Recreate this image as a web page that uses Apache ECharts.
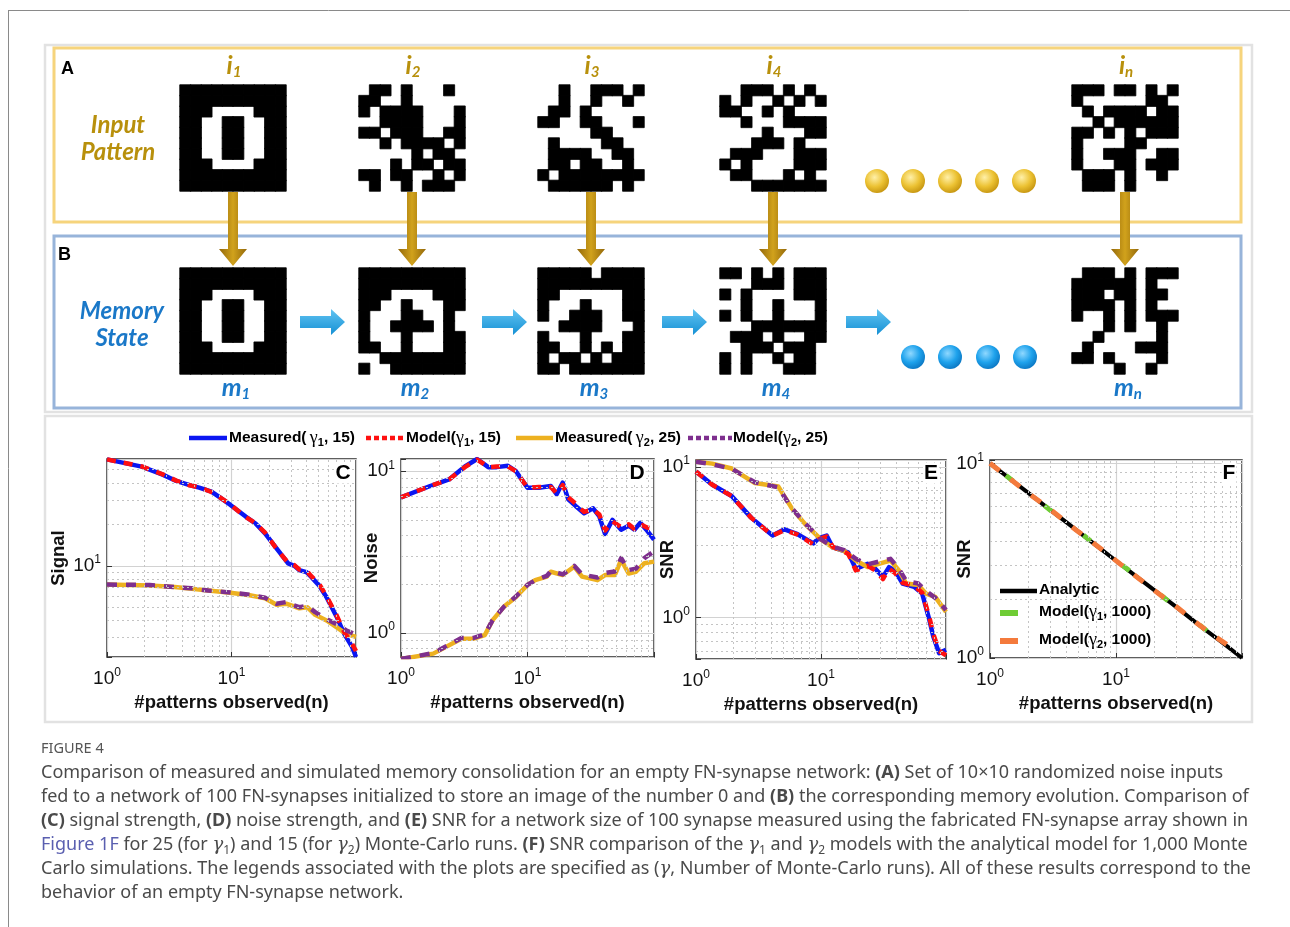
<!DOCTYPE html>
<html>
<head>
<meta charset="utf-8">
<script src="https://cdn.jsdelivr.net/npm/echarts@6/dist/echarts.min.js"></script>
<style>
  html, body { margin: 0; padding: 0; background: #fff; }
  #fig { width: 1290px; height: 927px; }
</style>
</head>
<body>
<div id="fig"></div>
<script>
// ---------- 10x10 binary patterns (1 = black pixel) ----------
const patInput1 = ['1111111111','1111111111','1110000111','1100110011','1100110011','1100110011','1100110011','1110000111','1111111111','1111111111'];
const patInput2 = ['0110100010','1100100000','1011110001','0011110001','1101110011','0010111101','0000010110','0001011011','1101100101','0100101110'];
const patInput3 = ['0010011101','0010010010','0110100000','1100110001','0000011000','0100001100','0111100110','0110110010','1011111111','0111111010'];
const patInput4 = ['0011101010','1010010101','1100101000','0010001111','0000100011','0001110100','0111000111','1010000111','0110001010','0001111111'];
const patInputN = ['1110110101','1000000110','0101111011','0010111111','1101010111','1000011000','1001110011','1000110111','0111010010','0111010000'];
const patMemory1 = ['1111111111','1111111111','1110000111','1100110011','1100110011','1100110011','1100110011','1110000111','1111111111','1111111111'];
const patMemory2 = ['1111111111','1111111111','1110000111','1100100011','1000110010','1001111010','1000100011','1100100011','0011111111','1001111111'];
const patMemory3 = ['1111101111','1111111111','1100000011','1000100011','1001110011','0011110001','1000100011','1100101011','1011010111','1101111111'];
const patMemory4 = ['1101010111','0001110111','1010000111','0010010001','1010010001','0001111111','0111010011','0011101110','1010010110','1010001110'];
const patMemoryN = ['0111010111','1111110100','1110110110','1111010100','1001010111','0001010010','0010000010','0100001110','1101000010','0000100100'];

const patternLefts = [180, 359, 538, 720, 1072];
const inputLabels = ['1', '2', '3', '4', 'n'];

// ---------- panel C: signal ----------
const sigG1N   = [1, 1.9, 2.8, 3.6, 4.6, 5.5, 6.9, 7.9, 9.8, 13, 15.6, 18.6, 23, 28.5, 32, 35, 40, 43.7, 50.5, 58, 69.5, 80.5, 93, 100];
const sigG1Meas  = [59.4, 52.6, 46, 41.4, 38.6, 37, 34.6, 31.8, 27.7, 22.8, 20.3, 17.2, 13.4, 10.4, 10.0, 9.3, 9.0, 8.3, 7.2, 5.9, 4.3, 3.2, 2.57, 2.17];
const sigG1Model = [59.4, 52.8, 46.2, 41.6, 38.5, 37.2, 34.4, 31.9, 27.9, 22.6, 20.4, 17.4, 13.3, 10.5, 10.1, 9.4, 9.2, 8.4, 7.4, 6.0, 4.4, 3.3, 2.7, 2.4];
const sigG2N   = [1, 2.2, 3.5, 4.8, 6.5, 9.8, 14, 18.6, 23, 27.5, 31, 35, 40.6, 47, 58, 72, 83, 100];
const sigG2Meas  = [7.3, 7.2, 7.0, 6.8, 6.6, 6.36, 6.1, 5.8, 5.2, 5.3, 5.1, 4.9, 5.0, 4.4, 4.0, 3.5, 3.2, 3.04];
const sigG2Model = [7.3, 7.25, 7.0, 6.85, 6.6, 6.4, 6.15, 5.85, 5.3, 5.45, 5.2, 5.0, 5.1, 4.6, 4.1, 3.7, 3.4, 3.15];

// ---------- panel D: noise ----------
const noiG1N   = [1, 1.7, 2.4, 3.2, 4.0, 4.9, 5.7, 7.0, 8.1, 10, 12.3, 15.3, 17, 19, 21, 24, 28, 33, 37, 41, 47, 55, 63, 70, 78, 87, 100];
const noiG1Meas  = [6.9, 8.1, 8.9, 10.7, 11.9, 10.6, 10.6, 10.8, 10, 7.9, 7.9, 8.1, 7.2, 8.5, 6.7, 6.1, 5.5, 5.9, 5.25, 4.1, 5.0, 4.35, 4.6, 4.35, 4.8, 4.35, 3.77];
const noiG1Model = [6.9, 8.1, 8.9, 10.6, 11.8, 10.6, 10.7, 10.7, 10, 7.9, 8.0, 8.0, 7.3, 8.2, 6.9, 6.3, 5.6, 5.8, 5.4, 4.3, 4.9, 4.5, 4.7, 4.4, 4.7, 4.5, 4.4];
const noiG2N   = [1, 1.8, 3, 3.7, 4.6, 5.3, 6.5, 8.1, 10, 11.5, 14.2, 15.3, 19, 23.4, 27, 35.7, 41, 49, 55, 63, 72, 84, 100];
const noiG2Meas  = [0.69, 0.745, 0.92, 0.92, 0.97, 1.2, 1.45, 1.67, 1.98, 2.12, 2.23, 2.39, 2.28, 2.57, 2.23, 2.12, 2.28, 2.28, 2.83, 2.33, 2.39, 2.7, 2.76];
const noiG2Model = [0.69, 0.75, 0.93, 0.93, 0.98, 1.2, 1.45, 1.68, 1.98, 2.12, 2.25, 2.42, 2.3, 2.6, 2.3, 2.2, 2.35, 2.4, 2.9, 2.45, 2.5, 2.9, 3.2];

// ---------- panel E: SNR ----------
const snrG1N   = [1, 1.35, 1.93, 2.76, 4.1, 5.1, 6.5, 8.7, 9.6, 11.1, 12.4, 16.5, 19, 23.6, 27.3, 31.3, 35, 39, 45, 55.6, 64.5, 73.7, 79, 88, 100];
const snrG1Meas  = [9.3, 7.6, 6.4, 4.6, 3.5, 3.85, 3.57, 3.1, 3.36, 3.5, 2.92, 2.7, 2.1, 2.27, 2.1, 1.86, 2.16, 2.05, 1.68, 1.6, 1.44, 0.96, 0.75, 0.58, 0.61];
const snrG1Model = [9.3, 7.6, 6.4, 4.6, 3.5, 3.8, 3.55, 3.05, 3.3, 3.45, 2.95, 2.65, 2.05, 2.2, 2.05, 1.8, 2.1, 1.98, 1.7, 1.62, 1.46, 1.0, 0.78, 0.6, 0.56];
const snrG2N   = [1, 1.35, 1.93, 2.96, 4.55, 5.85, 7.5, 10, 12.4, 15.3, 19, 23.6, 29, 36, 42, 48, 60, 69, 82, 100];
const snrG2Meas  = [10.8, 10.5, 9.75, 7.8, 7.4, 5.3, 4.15, 3.3, 2.92, 2.77, 2.39, 2.16, 2.27, 2.39, 2.05, 1.68, 1.64, 1.44, 1.37, 1.09];
const snrG2Model = [10.8, 10.4, 9.7, 7.9, 7.3, 5.3, 4.2, 3.3, 2.95, 2.8, 2.45, 2.25, 2.35, 2.45, 2.1, 1.75, 1.68, 1.5, 1.35, 1.12];

// ---------- panel F: SNR, analytic vs 1000-run models ----------
const fAnalyticN = [1, 1.5, 2, 3, 4, 5, 7, 10, 15, 20, 30, 40, 50, 70, 100];
const fAnalytic  = [10, 8.16, 7.07, 5.77, 5.0, 4.47, 3.78, 3.16, 2.58, 2.24, 1.83, 1.58, 1.41, 1.20, 1.0];
const fModelN    = [1, 2, 3, 5, 8, 12, 20, 30, 45, 60, 86];
const fModelG1   = [10.0, 7.1, 5.75, 4.5, 3.52, 2.9, 2.25, 1.82, 1.5, 1.28, 1.1];
const fModelG2   = [10.0, 7.05, 5.8, 4.46, 3.55, 2.88, 2.23, 1.84, 1.49, 1.3, 1.11];

// minor grid positions (log decades)
const xMinor = [2, 3, 4, 5, 6, 7, 8, 9, 20, 30, 40, 50, 60, 70, 80, 90];
const yMinorC = [3, 4, 5, 6, 7, 8, 9, 20, 30, 40, 50];
const yMinorD = [0.8, 0.9, 2, 3, 4, 5, 6, 7, 8, 9];
const yMinorE = [0.6, 0.7, 0.8, 0.9, 2, 3, 4, 5, 6, 7, 8, 9];
const yMinorF = [2, 3, 4, 5, 6, 7, 8, 9];

// ---------- styling ----------
const BLUE = '#0b16f2', RED = '#ff1010', ORANGE = '#edb120', PURPLE = '#7e2f8e';
const GREEN = '#6fcc35', CORAL = '#f47a3c';
const GOLD_TXT = '#b8900c', BLUE_TXT = '#1a78c8';
const PF = '"Liberation Sans", Arial, sans-serif';
const CAP = '"Noto Sans", "Open Sans", sans-serif';

const pairs = (xs, ys) => xs.map((x, i) => [x, ys[i]]);
// only the black pixels are drawn; a hairline border of the same colour closes the seams
const cells = rows => {
  const out = [];
  rows.forEach((r, ri) => {
    for (let c = 0; c < 10; c++) {
      if (r[c] === '1') out.push({ value: [c, ri, 1], itemStyle: { color: '#000', borderColor: '#000', borderWidth: 0.8 } });
    }
  });
  return out;
};

const grids = [], xAxes = [], yAxes = [], series = [];

// pattern heatmaps
const patterns = [patInput1, patInput2, patInput3, patInput4, patInputN,
                  patMemory1, patMemory2, patMemory3, patMemory4, patMemoryN];
patterns.forEach((p, k) => {
  const left = patternLefts[k % 5];
  const top = k < 5 ? 85 : 268;
  grids.push({ left: left, top: top, width: 106, height: 106 });
  const cats = ['0','1','2','3','4','5','6','7','8','9'];
  xAxes.push({ type: 'category', gridIndex: k, data: cats, show: false });
  yAxes.push({ type: 'category', gridIndex: k, data: cats, show: false, inverse: true });
  series.push({ type: 'heatmap', xAxisIndex: k, yAxisIndex: k, data: cells(p), silent: true });
});

function powLabel(v) {
  const l = Math.log10(v), r = Math.round(l);
  if (Math.abs(l - r) > 1e-6 || r > 1 || r < 0) return '';
  return '{b|10}{s|' + r + '}';
}
const tickRich = {
  b: { fontSize: 19, fontFamily: PF, color: '#111', lineHeight: 24 },
  s: { fontSize: 12, fontFamily: PF, color: '#111', lineHeight: 12, verticalAlign: 'top' }
};

const plots = [
  { left: 107, top: 459, width: 249, height: 198, ymin: 2.17, ymax: 59.8, yname: 'Signal', ygap: 39, ym: yMinorC },
  { left: 401, top: 459, width: 253, height: 198, ymin: 0.71, ymax: 11.9, yname: 'Noise', ygap: 20, ym: yMinorD },
  { left: 696, top: 460, width: 250, height: 199, ymin: 0.53, ymax: 11.1, yname: 'SNR', ygap: 19, ym: yMinorE },
  { left: 990, top: 460, width: 252, height: 198, ymin: 1, ymax: 10.4, yname: 'SNR', ygap: 16, ym: yMinorF }
];
plots.forEach((p, j) => {
  const gi = 10 + j;
  grids.push({ left: p.left, top: p.top, width: p.width, height: p.height,
    show: true, borderColor: '#2a2a2a', borderWidth: 1.5, backgroundColor: '#fff' });
  xAxes.push({ type: 'log', logBase: 10, gridIndex: gi, min: 1, max: 100,
    name: '#patterns observed(n)', nameLocation: 'middle', nameGap: 36, nameMoveOverlap: false,
    nameTextStyle: { fontFamily: PF, fontSize: 18.5, fontWeight: 'bold', color: '#111', verticalAlign: 'top' },
    axisLine: { show: false },
    axisTick: { show: true, inside: true, length: 5, lineStyle: { color: '#333' } },
    axisLabel: { formatter: powLabel, rich: tickRich, margin: 10, showMinLabel: true, showMaxLabel: true },
    splitLine: { show: true, lineStyle: { color: '#d2d2d2', width: 1.2 } } });
  yAxes.push({ type: 'log', logBase: 10, gridIndex: gi, min: p.ymin, max: p.ymax,
    name: p.yname, nameLocation: 'middle', nameGap: p.ygap, nameRotate: 90, nameMoveOverlap: false,
    nameTextStyle: { fontFamily: PF, fontSize: 18.5, fontWeight: 'bold', color: '#111' },
    axisLine: { show: false },
    axisTick: { show: true, inside: true, length: 5, lineStyle: { color: '#333' } },
    axisLabel: { formatter: powLabel, rich: tickRich, margin: 6, showMinLabel: true, showMaxLabel: true },
    splitLine: { show: true, lineStyle: { color: '#d2d2d2', width: 1.2 } } });
  // dotted minor grid
  series.push({ type: 'line', xAxisIndex: gi, yAxisIndex: gi, data: [[1, p.ymin]], showSymbol: false,
    lineStyle: { opacity: 0 }, z: 1, silent: true,
    markLine: { silent: true, symbol: 'none', label: { show: false }, animation: false,
      lineStyle: { type: [2, 3], color: '#c4c4c4', width: 1 },
      data: xMinor.map(v => ({ xAxis: v })).concat(p.ym.map(v => ({ yAxis: v }))) } });
});

function line(gi, data, color, type, width, z, offset) {
  return { type: 'line', xAxisIndex: gi, yAxisIndex: gi, data: data, showSymbol: false,
    symbol: 'none', z: z, silent: true,
    lineStyle: { color: color, width: width, type: type, dashOffset: offset || 0, cap: 'butt', join: 'round' } };
}
// C
series.push(line(10, pairs(sigG1N, sigG1Meas), BLUE, 'solid', 4.5, 3));
series.push(line(10, pairs(sigG1N, sigG1Model), RED, [9, 8], 4.5, 4));
series.push(line(10, pairs(sigG2N, sigG2Meas), ORANGE, 'solid', 4.5, 3));
series.push(line(10, pairs(sigG2N, sigG2Model), PURPLE, [10, 9], 4.5, 4));
// D
series.push(line(11, pairs(noiG1N, noiG1Meas), BLUE, 'solid', 4.5, 3));
series.push(line(11, pairs(noiG1N, noiG1Model), RED, [9, 8], 4.5, 4));
series.push(line(11, pairs(noiG2N, noiG2Meas), ORANGE, 'solid', 4.5, 3));
series.push(line(11, pairs(noiG2N, noiG2Model), PURPLE, [10, 9], 4.5, 4));
// E
series.push(line(12, pairs(snrG1N, snrG1Meas), BLUE, 'solid', 4.5, 3));
series.push(line(12, pairs(snrG1N, snrG1Model), RED, [9, 8], 4.5, 4));
series.push(line(12, pairs(snrG2N, snrG2Meas), ORANGE, 'solid', 4.5, 3));
series.push(line(12, pairs(snrG2N, snrG2Model), PURPLE, [10, 9], 4.5, 4));
// F
series.push(line(13, pairs(fAnalyticN, fAnalytic), '#000', 'solid', 4, 3));
series.push(line(13, pairs(fModelN, fModelG1), GREEN, [9, 40], 5, 4, -20));
series.push(line(13, pairs(fModelN, fModelG2), CORAL, [12, 14], 5, 5));

// ---------- drawn decoration: frames, arrows, dots, texts ----------
const G = [];
// page rule
G.push({ type: 'line', shape: { x1: 8, y1: 10.5, x2: 1290, y2: 10.5 }, style: { stroke: '#8a8a8a', lineWidth: 1 } });
G.push({ type: 'line', shape: { x1: 8.5, y1: 10, x2: 8.5, y2: 927 }, style: { stroke: '#8a8a8a', lineWidth: 1 } });
// figure panels
G.push({ type: 'rect', shape: { x: 45, y: 45, width: 1207, height: 367 }, style: { fill: 'none', stroke: '#e2e2e2', lineWidth: 2.5 } });
G.push({ type: 'rect', shape: { x: 45, y: 416, width: 1207, height: 306 }, style: { fill: 'none', stroke: '#e2e2e2', lineWidth: 2.5 } });
G.push({ type: 'rect', shape: { x: 54, y: 48, width: 1187, height: 174 }, style: { fill: 'none', stroke: '#f6d47c', lineWidth: 3 } });
G.push({ type: 'rect', shape: { x: 54, y: 236, width: 1187, height: 172 }, style: { fill: 'none', stroke: '#97b4da', lineWidth: 3 } });

// gold down arrows
const goldGrad = { type: 'linear', x: 0, y: 0, x2: 1, y2: 0, colorStops: [
  { offset: 0, color: '#93680a' }, { offset: 0.5, color: '#d1a21c' }, { offset: 1, color: '#93680a' }] };
patternLefts.forEach(l => {
  const cx = l + 53;
  G.push({ type: 'polygon', shape: { points: [[cx - 5, 192], [cx + 5, 192], [cx + 5, 249], [cx + 14, 249], [cx, 266], [cx - 14, 249], [cx - 5, 249]] },
    style: { fill: goldGrad } });
});
// blue right arrows
const blueGrad = { type: 'linear', x: 0, y: 0, x2: 0, y2: 1, colorStops: [
  { offset: 0, color: '#62c4f2' }, { offset: 1, color: '#1590d4' }] };
[300, 482, 662, 846].forEach(x0 => {
  G.push({ type: 'polygon', shape: { points: [[x0, 316], [x0 + 31, 316], [x0 + 31, 309], [x0 + 45, 322], [x0 + 31, 335], [x0 + 31, 328], [x0, 328]] },
    style: { fill: blueGrad } });
});
// ellipsis dots
[877, 913, 950, 987, 1024].forEach(cx => {
  G.push({ type: 'circle', shape: { cx: cx, cy: 181, r: 12 }, style: { fill: { type: 'radial', x: 0.4, y: 0.35, r: 0.7,
    colorStops: [{ offset: 0, color: '#fff0a8' }, { offset: 0.55, color: '#ecc233' }, { offset: 1, color: '#c3920e' }] } } });
});
[913, 950, 988, 1025].forEach(cx => {
  G.push({ type: 'circle', shape: { cx: cx, cy: 357, r: 12 }, style: { fill: { type: 'radial', x: 0.4, y: 0.35, r: 0.7,
    colorStops: [{ offset: 0, color: '#8fd8ff' }, { offset: 0.55, color: '#1ea2ec' }, { offset: 1, color: '#0a74c0' }] } } });
});

function txt(x, y, text, style) {
  return { type: 'text', x: x, y: y, z: 100, silent: true,
    style: Object.assign({ text: text, align: 'left', verticalAlign: 'middle', textAlign: 'left', textVerticalAlign: 'middle' }, style) };
}
const labFont = '"Lato", "Liberation Sans", sans-serif';
G.push(txt(61, 69, 'A', { fontSize: 18, fontWeight: 'bold', fontFamily: PF, fill: '#000' }));
G.push(txt(58, 255, 'B', { fontSize: 18, fontWeight: 'bold', fontFamily: PF, fill: '#000' }));
['Input', 'Pattern'].forEach((w, i) => G.push(txt(118, 125 + i * 27, w,
  { align: 'center', textAlign: 'center', fontSize: 24, fontWeight: 'bold', fontStyle: 'italic', fontFamily: labFont, fill: GOLD_TXT })));
['Memory', 'State'].forEach((w, i) => G.push(txt(122, 311 + i * 27, w,
  { align: 'center', textAlign: 'center', fontSize: 24, fontWeight: 'bold', fontStyle: 'italic', fontFamily: labFont, fill: BLUE_TXT })));
patternLefts.forEach((l, k) => {
  const richI = {
    m: { fontSize: 25, fontWeight: 'bold', fontStyle: 'italic', fontFamily: labFont, fill: GOLD_TXT, lineHeight: 28 },
    s: { fontSize: 15, fontWeight: 'bold', fontStyle: 'italic', fontFamily: labFont, fill: GOLD_TXT, lineHeight: 14, verticalAlign: 'bottom' } };
  const richM = {
    m: { fontSize: 25, fontWeight: 'bold', fontStyle: 'italic', fontFamily: labFont, fill: BLUE_TXT, lineHeight: 28 },
    s: { fontSize: 15, fontWeight: 'bold', fontStyle: 'italic', fontFamily: labFont, fill: BLUE_TXT, lineHeight: 14, verticalAlign: 'bottom' } };
  G.push(txt(l + 54, 66, '{m|i}{s|' + inputLabels[k] + '}', { align: 'center', textAlign: 'center', rich: richI }));
  G.push(txt(l + 56, 388, '{m|m}{s|' + inputLabels[k] + '}', { align: 'center', textAlign: 'center', rich: richM }));
});

// panel letters
[[343, 'C'], [637, 'D'], [931, 'E'], [1229, 'F']].forEach(([x, t]) =>
  G.push(txt(x, 473, t, { align: 'center', textAlign: 'center', fontSize: 21, fontWeight: 'bold', fontFamily: PF, fill: '#000',
    backgroundColor: '#fff', padding: [0, 1] })));

// legend above C-F
const legRich = {
  t: { fontSize: 15.5, fontWeight: 'bold', fontFamily: PF, fill: '#000', lineHeight: 20 },
  g: { fontSize: 18, fontFamily: '"Liberation Serif", serif', fill: '#000', lineHeight: 20 },
  s: { fontSize: 11, fontWeight: 'bold', fontFamily: PF, fill: '#000', lineHeight: 10, verticalAlign: 'bottom' } };
const legItems = [
  { x1: 189, x2: 227, c: BLUE, dash: null, tx: 229, label: '{t|Measured(} {g|γ}{s|1}{t|, 15)}' },
  { x1: 366, x2: 405, c: RED, dash: [5, 3], tx: 406, label: '{t|Model(}{g|γ}{s|1}{t|, 15)}' },
  { x1: 516, x2: 553, c: ORANGE, dash: null, tx: 555, label: '{t|Measured(} {g|γ}{s|2}{t|, 25)}' },
  { x1: 688, x2: 732, c: PURPLE, dash: [5, 3], tx: 733, label: '{t|Model(}{g|γ}{s|2}{t|, 25)}' }
];
legItems.forEach(it => {
  G.push({ type: 'line', z: 100, shape: { x1: it.x1, y1: 438, x2: it.x2, y2: 438 },
    style: { stroke: it.c, lineWidth: 4.5, lineDash: it.dash } });
  G.push(txt(it.tx, 438, it.label, { rich: legRich }));
});
// legend inside F
G.push({ type: 'line', z: 100, shape: { x1: 1000, y1: 591, x2: 1037, y2: 591 }, style: { stroke: '#000', lineWidth: 4.5 } });
G.push(txt(1039, 590, '{t|Analytic}', { rich: legRich }));
G.push({ type: 'line', z: 100, shape: { x1: 1000, y1: 613, x2: 1018, y2: 613 }, style: { stroke: GREEN, lineWidth: 6 } });
G.push(txt(1039, 612, '{t|Model(}{g|γ}{s|1}{t|, 1000)}', { rich: legRich }));
G.push({ type: 'line', z: 100, shape: { x1: 1000, y1: 641, x2: 1018, y2: 641 }, style: { stroke: CORAL, lineWidth: 6 } });
G.push(txt(1039, 640, '{t|Model(}{g|γ}{s|2}{t|, 1000)}', { rich: legRich }));

// caption
const CS = 18;
G.push(txt(41, 749, 'FIGURE 4', { fontSize: 14.5, fontFamily: CAP, fill: '#555' }));
const capRich = {
  b: { fontWeight: 'bold', fontSize: CS, fontFamily: CAP, fill: '#4a4a4a', lineHeight: 24 },
  g: { fontStyle: 'italic', fontSize: CS, fontFamily: '"DejaVu Serif", serif', fill: '#4a4a4a', lineHeight: 24 },
  s: { fontSize: 12, fontFamily: CAP, fill: '#4a4a4a', lineHeight: 12, verticalAlign: 'bottom' },
  k: { fontSize: CS, fontFamily: CAP, fill: '#5a5fb0', lineHeight: 24 }
};
const capLines = [
  'Comparison of measured and simulated memory consolidation for an empty FN-synapse network: {b|(A)} Set of 10×10 randomized noise inputs',
  'fed to a network of 100 FN-synapses initialized to store an image of the number 0 and {b|(B)} the corresponding memory evolution. Comparison of',
  '{b|(C)} signal strength, {b|(D)} noise strength, and {b|(E)} SNR for a network size of 100 synapse measured using the fabricated FN-synapse array shown in',
  '{k|Figure 1F} for 25 (for {g|γ}{s|1}) and 15 (for {g|γ}{s|2}) Monte-Carlo runs. {b|(F)} SNR comparison of the {g|γ}{s|1} and {g|γ}{s|2} models with the analytical model for 1,000 Monte',
  'Carlo simulations. The legends associated with the plots are specified as ({g|γ}, Number of Monte-Carlo runs). All of these results correspond to the',
  'behavior of an empty FN-synapse network.'
];
capLines.forEach((t, i) => G.push(txt(41, 773 + i * 24, t,
  { fontSize: CS, fontFamily: CAP, fill: '#4a4a4a', lineHeight: 24, rich: capRich })));

const chart = echarts.init(document.getElementById('fig'), null, { renderer: 'canvas', width: 1290, height: 927 });
chart.setOption({
  animation: false,
  backgroundColor: '#fff',
  grid: grids,
  xAxis: xAxes,
  yAxis: yAxes,
  series: series,
  graphic: { elements: G }
});
</script>
</body>
</html>
